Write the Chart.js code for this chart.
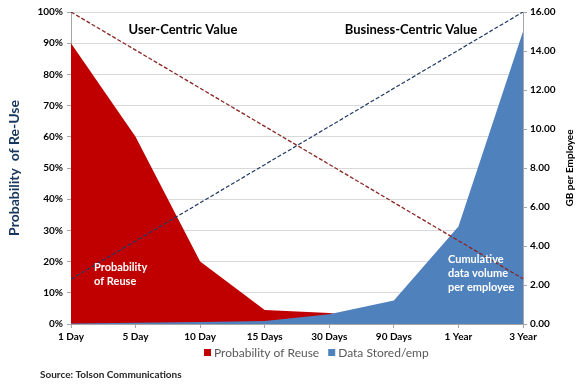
<!DOCTYPE html>
<html lang="en">
<head>
<meta charset="UTF-8">
<title>Probability of Re-Use vs Data Stored</title>
<script src="https://cdn.jsdelivr.net/npm/chart.js@4"></script>
<style>
  html, body { margin: 0; padding: 0; background: #fff; }
  canvas { display: block; }
</style>
</head>
<body>
<canvas id="chart" width="587" height="388"></canvas>
<script>
const periods = ['1 Day', '5 Day', '10 Day', '15 Days', '30 Days', '90 Days', '1 Year', '3 Year']
const reusePct = [90, 60, 20, 4.5, 3.5, 1, 0.5, 0.2]
const storedGb = [0.03, 0.06, 0.1, 0.15, 0.5, 1.2, 5.0, 15.0]
// the two dashed guide lines, only ends are set
const reuseGuide = [100, null, null, null, null, null, null, 14.5]
const storedGuide = [2.3, null, null, null, null, null, null, 16]

const RED = '#c00000'
const BLUE = '#4f81bd'
const GRID = '#d9d9d9'
const FONT = "Lato, 'Open Sans', sans-serif"

Chart.defaults.font.family = FONT

const labelsPlugin = {
  id: 'labels',
  afterDraw(chart) {
    const { ctx, chartArea } = chart
    ctx.save()
    ctx.textBaseline = 'middle'
    ctx.fillStyle = '#000'
    ctx.font = `bold 13px ${FONT}`
    ctx.textAlign = 'center'
    ctx.fillText('User-Centric Value', 183, 30)
    ctx.fillText('Business-Centric Value', 411, 30)

    ctx.fillStyle = '#fff'
    ctx.font = `bold 11px ${FONT}`
    ctx.textAlign = 'left'
    ctx.fillText('Probability', 94, 267)
    ctx.fillText('of Reuse', 94, 281)
    ctx.fillText('Cumulative', 448, 259)
    ctx.fillText('data volume', 448, 273)
    ctx.fillText('per employee', 448, 287)

    // legend, only the two area series
    ctx.font = `12px ${FONT}`
    let lx = 204
    chart.data.datasets.slice(0, 2).forEach(ds => {
      ctx.fillStyle = ds.backgroundColor
      ctx.fillRect(lx, 349, 7, 7)
      lx += 10
      ctx.fillStyle = '#595959'
      ctx.fillText(ds.label, lx, 353)
      lx += ctx.measureText(ds.label).width + 9
    })

    ctx.fillStyle = '#262626'
    ctx.font = `bold 10px ${FONT}`
    ctx.fillText('Source: Tolson Communications', 40, 375)

    // right axis title reads bottom to top like the left one
    ctx.translate(570, (chartArea.top + chartArea.bottom) / 2)
    ctx.rotate(-Math.PI / 2)
    ctx.textAlign = 'center'
    ctx.fillStyle = '#000'
    ctx.fillText('GB per Employee', 0, 0)
    ctx.restore()
  }
}

new Chart(document.getElementById('chart'), {
  type: 'line',
  data: {
    labels: periods,
    datasets: [
      { label: 'Probability of Reuse', data: reusePct, yAxisID: 'y', fill: 'origin', backgroundColor: RED, borderColor: RED, borderWidth: 0, pointRadius: 0, tension: 0, order: 3 },
      { label: 'Data Stored/emp', data: storedGb, yAxisID: 'y1', fill: 'origin', backgroundColor: BLUE, borderColor: BLUE, borderWidth: 0, pointRadius: 0, tension: 0, order: 2 },
      { label: 'reuse guide', data: reuseGuide, yAxisID: 'y', spanGaps: true, fill: false, borderColor: '#8b2523', borderWidth: 1.3, borderDash: [4, 2], pointRadius: 0, order: 1 },
      { label: 'stored guide', data: storedGuide, yAxisID: 'y1', spanGaps: true, fill: false, borderColor: '#1f3864', borderWidth: 1.2, borderDash: [4, 2], pointRadius: 0, order: 1 }
    ]
  },
  options: {
    responsive: false,
    animation: false,
    layout: { padding: { top: 12, left: 0, right: 0, bottom: 42 } },
    plugins: {
      tooltip: { enabled: false },
      legend: { display: false }
    },
    scales: {
      x: {
        offset: false,
        grid: { display: true, drawOnChartArea: false, offset: false, color: '#a6a6a6', tickLength: 4 },
        border: { color: '#a6a6a6' },
        ticks: { color: '#000', font: { size: 10, weight: 'bold' }, maxRotation: 0, padding: 3 },
        afterFit: s => { s.height = 22 }
      },
      y: {
        position: 'left',
        min: 0, max: 100,
        grid: { color: GRID, tickLength: 4, tickColor: '#a6a6a6' },
        border: { color: '#a6a6a6' },
        ticks: { stepSize: 10, color: '#000', font: { size: 10, weight: 'bold' }, padding: 4, callback: v => v + '%' },
        title: { display: true, text: 'Probability  of Re-Use', color: '#17365d', font: { size: 14, weight: 'bold' }, padding: { top: 6, bottom: 0 } },
        afterFit: s => { s.width = 71 }
      },
      y1: {
        position: 'right',
        min: 0, max: 16,
        grid: { drawOnChartArea: false, tickLength: 4, color: '#a6a6a6' },
        border: { color: '#a6a6a6' },
        ticks: { stepSize: 2, color: '#000', font: { size: 10, weight: 'bold' }, padding: 3, callback: v => v.toFixed(2) },
        afterFit: s => { s.width = 64 }
      }
    }
  },
  plugins: [labelsPlugin]
})
</script>
</body>
</html>
